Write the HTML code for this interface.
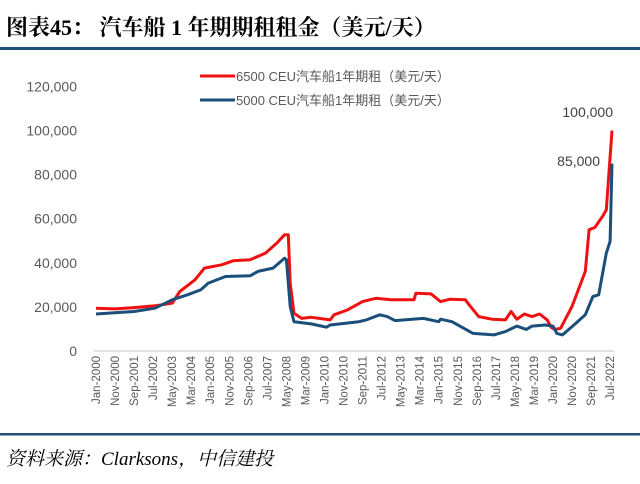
<!DOCTYPE html>
<html><head><meta charset="utf-8"><style>
body{margin:0;background:#fff;width:640px;height:479px;overflow:hidden;font-family:"Liberation Sans","Noto Sans CJK SC",sans-serif}
</style></head><body>
<svg width="640" height="479" xmlns="http://www.w3.org/2000/svg">
<text x="6" y="35" font-family="'Liberation Serif','Noto Serif CJK SC',serif" font-weight="bold" font-size="22" fill="#000">图表45：  汽车船 1 年期期租租金（美元/天）</text>
<rect x="0" y="47" width="640" height="3" fill="#1f4e79"/>
<g id="yaxis"></g>
<g id="xaxis"></g>
<line x1="94" y1="351" x2="614" y2="351" stroke="#d9d9d9" stroke-width="1.5"/>
<g id="series"></g>
<g>
<line x1="200" y1="76" x2="235" y2="76" stroke="#ee1111" stroke-width="3"/>
<text x="236" y="81" font-size="13" fill="#595959">6500 CEU汽车船1年期租（美元/天）</text>
<line x1="200" y1="100" x2="235" y2="100" stroke="#1b4f7a" stroke-width="3"/>
<text x="236" y="105" font-size="13" fill="#595959">5000 CEU汽车船1年期租（美元/天）</text>
</g>
<text x="613" y="117" text-anchor="end" font-size="14" fill="#404040">100,000</text>
<text x="600" y="166" text-anchor="end" font-size="14" fill="#404040">85,000</text>
<rect x="0" y="433" width="640" height="2.5" fill="#1f4e79"/>
<text x="6" y="465" font-family="'Liberation Serif','Noto Serif CJK SC',serif" font-style="italic" font-size="19" fill="#000">资料来源：Clarksons，中信建投</text>
</svg>
<script>
const yTicks=[0,20000,40000,60000,80000,100000,120000];
const xLabelMonths=[0,10,20,30,40,50,60,70,80,90,100,110,120,130,140,150,160,170,180,190,200,210,220,230,240,250,260,270];
const monthNames=["Jan","Feb","Mar","Apr","May","Jun","Jul","Aug","Sep","Oct","Nov","Dec"];
const redMonths=[0,10,20,31,40,44,52,57,66,72,81,89,95,99,101,102,104,108,113,123,125,132,140,147,155,167,168,176,181,186,194,196,201,208,215,218,221,225,229,233,237,239,241,244,250,254,257,259,262,266,268,271];
const redValues=[19400,19100,19700,20500,21700,27000,32300,37600,39100,40900,41400,44400,49000,52700,52700,30800,17100,14800,15300,14100,16400,18600,22400,23900,23200,23200,26200,25900,22400,23500,23200,20900,15600,14400,14100,17900,14400,16800,15600,16800,14100,10800,9800,10300,20200,29300,36100,55000,56000,61000,64000,100000];
const blueMonths=[0,20,31,40,48,55,59,68,81,85,93,99,100,102,104,113,121,123,138,142,149,153,157,172,180,181,187,198,209,215,221,226,229,236,240,242,245,251,257,261,264,268,270,271];
const blueValues=[16800,17900,19400,23200,25500,27700,30800,33800,34100,36100,37600,42100,41400,20200,13300,12300,10800,11800,13300,14100,16400,15600,13800,14800,13300,14400,13300,8000,7300,8800,11300,9800,11300,11800,11300,8000,7300,11800,16400,24700,25500,44400,49700,85000];
const NS="http://www.w3.org/2000/svg";
const x0=96,pxPerMonth=1.904,yZero=351,pxPerUnit=44.1/20000;
function xScale(m){return x0+m*pxPerMonth;}
function yScale(v){return yZero-v*pxPerUnit;}
const ya=document.getElementById('yaxis');
yTicks.forEach(v=>{
 const t=document.createElementNS(NS,'text');
 t.setAttribute('x',77);t.setAttribute('y',yScale(v)+5);
 t.setAttribute('text-anchor','end');t.setAttribute('font-size','14');t.setAttribute('fill','#595959');
 t.textContent=v.toLocaleString('en-US');
 
 
 ya.appendChild(t);
});
const xa=document.getElementById('xaxis');
xLabelMonths.forEach(m=>{
 const t=document.createElementNS(NS,'text');
 const x=xScale(m)+4,y=356;
 t.setAttribute('x',x);t.setAttribute('y',y);
 t.setAttribute('transform','rotate(-90 '+x+' '+y+')');
 t.setAttribute('text-anchor','end');t.setAttribute('font-size','11.5');t.setAttribute('fill','#595959');
 t.textContent=monthNames[m%12]+'-'+(2000+Math.floor(m/12));
 
 
 xa.appendChild(t);
});
function addLine(ms,vs,color,name){
 const p=document.createElementNS(NS,'polyline');
 p.setAttribute('points',ms.map((m,i)=>xScale(m).toFixed(1)+','+yScale(vs[i]).toFixed(1)).join(' '));
 p.setAttribute('fill','none');p.setAttribute('stroke',color);p.setAttribute('stroke-width','3');p.setAttribute('stroke-linejoin','round');
 
 
 document.getElementById('series').appendChild(p);
}
addLine(redMonths,redValues,'#ee1111','series-6500-ceu');
addLine(blueMonths,blueValues,'#1b4f7a','series-5000-ceu');
</script>
</body></html>
